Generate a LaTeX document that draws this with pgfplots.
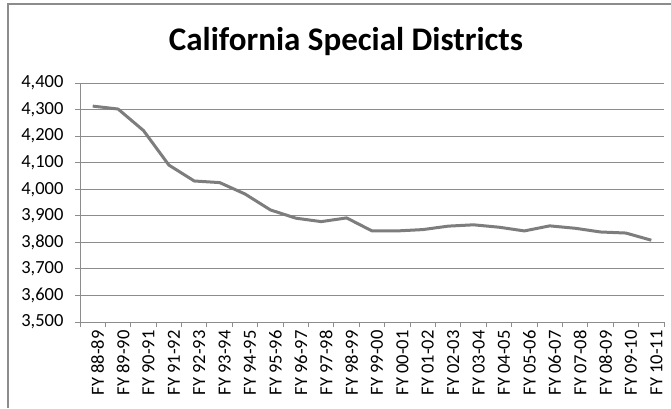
\documentclass[border=0pt]{standalone}
\usepackage{fontspec}
\setmainfont{Carlito}
\usepackage{pgfplots}
\pgfplotsset{compat=1.18}
\definecolor{linegray}{RGB}{125,125,125}
\definecolor{gridgray}{RGB}{140,140,140}
\begin{document}
\begin{tikzpicture}[x=1pt,y=1pt]
\path[use as bounding box] (0,0) rectangle (671,408);
\draw[gridgray, line width=1.5pt] (8,0) -- (8,404) -- (671,404);
\node[font=\fontsize{33}{33}\selectfont\bfseries, anchor=base] at (346,358) {California Special Districts};
\begin{axis}[
  at={(80pt,86pt)}, anchor=south west, scale only axis,
  width=584pt, height=239pt,
  xmin=-0.5, xmax=22.5, ymin=3500, ymax=4400,
  ytick={3500,3600,...,4400},
  axis x line*=bottom, axis y line*=left,
  axis line style={gridgray, line width=1pt, -},
  ymajorgrids, grid style={gridgray, line width=1pt},
  xtick={0,...,22},
  xticklabels={FY 88-89,FY 89-90,FY 90-91,FY 91-92,FY 92-93,FY 93-94,FY 94-95,FY 95-96,FY 96-97,FY 97-98,FY 98-99,FY 99-00,FY 00-01,FY 01-02,FY 02-03,FY 03-04,FY 04-05,FY 05-06,FY 06-07,FY 07-08,FY 08-09,FY 09-10,FY 10-11},
  major x tick style={draw=none},
  minor xtick={-0.5,0.5,...,22.5},
  minor x tick style={gridgray, line width=1pt},
  major y tick style={gridgray, line width=1pt},
  tick align=outside, major tick length=5pt, minor tick length=5pt,
  x tick label style={rotate=90, anchor=east, font=\fontsize{18.5}{18.5}\selectfont, yshift=-5pt},
  y tick label style={font=\fontsize{18.5}{18.5}\selectfont, xshift=-8pt},
  /pgf/number format/assume math mode=true,
  /pgf/number format/1000 sep={,},
  scaled y ticks=false,
]
\addplot[linegray, line width=3pt, no markers, line join=round] coordinates {
(0,4313) (1,4302) (2,4221) (3,4091) (4,4031) (5,4025) (6,3982) (7,3922)
(8,3891) (9,3878) (10,3892) (11,3843) (12,3843) (13,3848) (14,3861) (15,3866)
(16,3857) (17,3843) (18,3862) (19,3853) (20,3839) (21,3835) (22,3808)
};
\end{axis}
\end{tikzpicture}
\end{document}
